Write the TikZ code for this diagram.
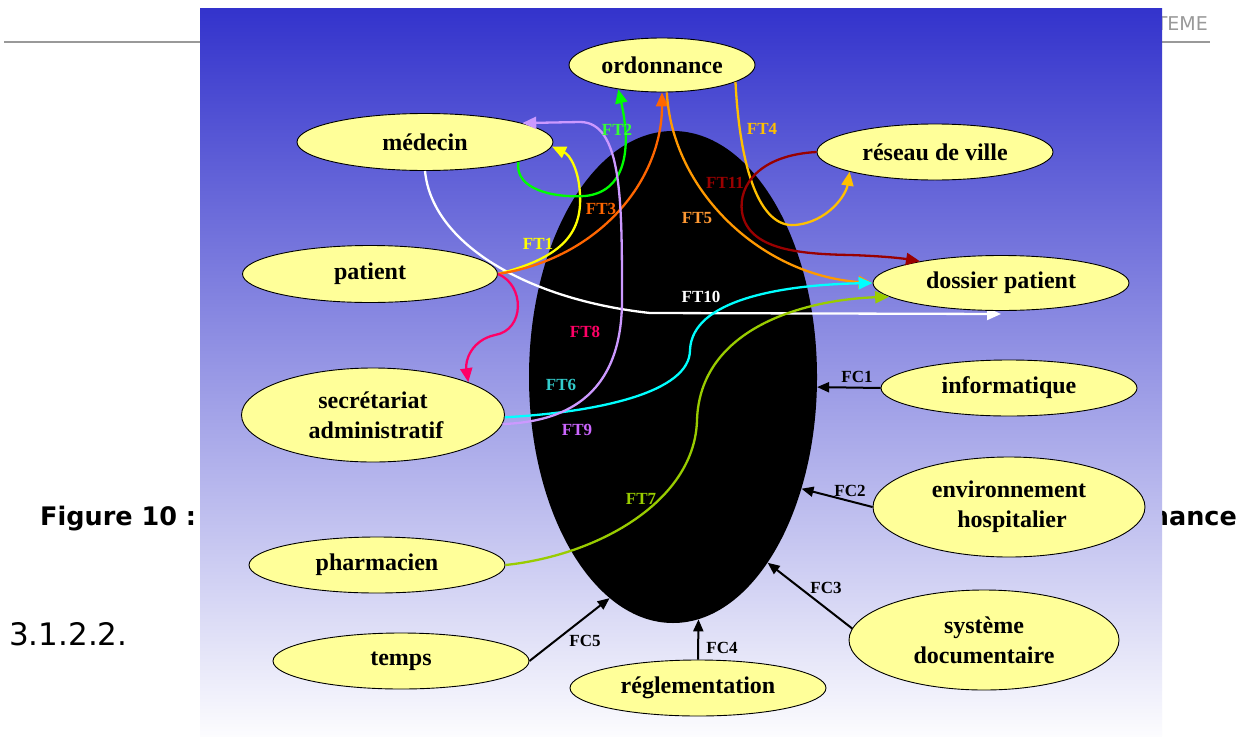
\documentclass[tikz,border=0pt]{standalone}
\usepackage{fontspec}
\setmainfont{Liberation Serif}
\newfontfamily\pagefont{DejaVu Sans}
\usetikzlibrary{shapes.geometric,arrows.meta}
\definecolor{bgtop}{HTML}{3333CC}
\definecolor{bgbot}{HTML}{FCFCFE}
\definecolor{nodeyellow}{HTML}{FFFF99}
\definecolor{cFTone}{HTML}{FFFF00}
\definecolor{cFTtwo}{HTML}{00FF00}
\definecolor{cFTtwoL}{HTML}{33FF33}
\definecolor{cFTthree}{HTML}{FF6600}
\definecolor{cFTfour}{HTML}{FFC000}
\definecolor{cFTfive}{HTML}{FF9900}
\definecolor{cFTfiveL}{HTML}{FF9933}
\definecolor{cFTsix}{HTML}{00FFFF}
\definecolor{cFTsixL}{HTML}{33CCCC}
\definecolor{cFTseven}{HTML}{99CC00}
\definecolor{cFTeight}{HTML}{FF0066}
\definecolor{cFTnine}{HTML}{CC99FF}
\definecolor{cFTnineL}{HTML}{CC66FF}
\definecolor{cFTeleven}{HTML}{990000}
\definecolor{pagegrey}{HTML}{999999}
\begin{document}
\begin{tikzpicture}[x=1pt,y=-1pt,
  box/.style={ellipse, draw=black, line width=0.9pt, fill=nodeyellow, inner sep=0pt,
    font=\bfseries\fontsize{24}{30}\selectfont, align=center},
  flow/.style={line width=2.3pt, -{Triangle[length=14pt,width=12pt]}},
  cst/.style={line width=2pt, draw=black, -{Triangle[length=12pt,width=10pt]}},
  lbl/.style={font=\bfseries\fontsize{17}{19}\selectfont, inner sep=0pt},
  pagetxt/.style={inner sep=0pt, font=\pagefont\bfseries\fontsize{25.5}{28}\selectfont}]
\useasboundingbox (0,0) rectangle (1238,736);
\fill[white] (0,0) rectangle (1238,736);
% page behind the figure
\draw[pagegrey, line width=2pt] (4,42) -- (1210,42);
\node[inner sep=0pt, anchor=base east, text=pagegrey, font=\pagefont\fontsize{19}{22}\selectfont] (hdr) at (1208,30) {STEME};
\node[pagetxt, anchor=base west] (fig) at (40,525) {Figure 10 :};
\node[pagetxt, anchor=base east] (tail) at (1237,525) {nance};
\node[inner sep=0pt, anchor=base west, font=\pagefont\fontsize{31}{34}\selectfont] (sec) at (9,645) {3.1.2.2.};
% figure background
\shade[top color=bgtop, bottom color=bgbot] (200,8) rectangle (1162,736);
% system
\node[ellipse, fill=black, minimum width=288pt, minimum height=492pt, inner sep=0pt] (sys) at (673,377) {};
% FT10 passes under the dossier node
\node[box, minimum width=256pt, minimum height=57pt] (medecin) at (425,142) {médecin};
\coordinate (ft10end) at (1001,314);
\draw[flow, white] (medecin.south) .. controls (432,245) and (530,300) .. (650,313) -- (ft10end);
% nodes
\node[box, minimum width=186pt, minimum height=54pt] (ordo) at (662,65) {ordonnance};
\node[box, minimum width=236pt, minimum height=56pt] (reseau) at (935,152) {réseau de ville};
\node[box, minimum width=255pt, minimum height=57pt] (patient) at (370,274) {patient};
\node[box, minimum width=256pt, minimum height=55pt] (dossier) at (1001,283) {dossier patient};
\node[box, minimum width=263pt, minimum height=94pt] (secr) at (373,415) {secrétariat\\\ administratif};
\node[box, minimum width=256pt, minimum height=56pt] (info) at (1009,388) {informatique};
\node[box, minimum width=272pt, minimum height=100pt] (env) at (1009,507) {environnement\\\ hospitalier};
\node[box, minimum width=270pt, minimum height=100pt] (doc) at (984,640) {système\\ documentaire};
\node[box, minimum width=256pt, minimum height=56pt] (pharma) at (377,565) {pharmacien};
\node[box, minimum width=256pt, minimum height=56pt] (temps) at (401,661) {temps};
\node[box, minimum width=256pt, minimum height=56pt] (regl) at (698,688) {réglementation};
% functional flows
\draw[flow, cFTone] (patient.east) .. controls (560,258) and (582,235) .. (580,195) .. controls (579,170) and (570,155) .. (medecin.-2);
\draw[flow, cFTtwo] (medecin.-12) .. controls (514,190) and (555,198) .. (585,196) .. controls (625,192) and (632,150) .. (ordo.209);
\draw[flow, cFTthree] (patient.east) .. controls (600,258) and (662,180) .. (ordo.south);
\draw[flow, cFTfive] (ordo.-80) .. controls (672,190) and (760,275) .. (dossier.west);
\draw[flow, cFTfour] (ordo.-13) .. controls (740,170) and (760,228) .. (795,225) .. controls (828,222) and (846,195) .. (reseau.193);
\draw[flow, cFTeleven] (reseau.west) .. controls (760,155) and (738,185) .. (742,212) .. controls (748,250) and (800,254) .. (850,255) .. controls (880,256) and (900,258) .. (dossier.165);
\draw[flow, cFTsix] (secr.-1) .. controls (600,412) and (690,392) .. (690,350) .. controls (692,300) and (780,285) .. (dossier.west);
\draw[flow, cFTseven] (pharma.east) .. controls (600,555) and (695,500) .. (697,420) .. controls (700,330) and (800,300) .. (dossier.187);
\draw[flow, cFTeight] (patient.east) .. controls (525,285) and (525,330) .. (495,335) .. controls (472,340) and (465,360) .. (secr.19);
\draw[flow, cFTnine] (secr.-4) .. controls (560,422) and (622,400) .. (622,300) .. controls (622,200) and (622,122) .. (580,122) -- (medecin.11);
% constraint flows
\draw[cst] (info.west) -- (sys.-4);
\draw[cst] (env.west) -- (sys.-41);
\draw[cst] (doc.175) -- (sys.-63);
\draw[cst] (regl.north) -- (sys.-84);
\draw[cst] (temps.east) -- (sys.-106);
% labels
\node[lbl, text=cFTone] (lFT1) at (538,244) {FT1};
\node[lbl, text=cFTtwoL] (lFT2) at (617,130) {FT2};
\node[lbl, text=cFTthree] (lFT3) at (601,209) {FT3};
\node[lbl, text=cFTfour] (lFT4) at (762,129) {FT4};
\node[lbl, text=cFTfiveL] (lFT5) at (697,218) {FT5};
\node[lbl, text=cFTeleven] (lFT11) at (725,183) {FT11};
\node[lbl, text=white] (lFT10) at (701,297) {FT10};
\node[lbl, text=cFTeight] (lFT8) at (585,332) {FT8};
\node[lbl, text=cFTsixL] (lFT6) at (561,385) {FT6};
\node[lbl, text=cFTnineL] (lFT9) at (577,430) {FT9};
\node[lbl, text=cFTseven] (lFT7) at (641,499) {FT7};
\node[lbl] (lFC1) at (857,377) {FC1};
\node[lbl] (lFC2) at (850,491) {FC2};
\node[lbl] (lFC3) at (826,588) {FC3};
\node[lbl] (lFC4) at (722,648) {FC4};
\node[lbl] (lFC5) at (585,641) {FC5};
\end{tikzpicture}
\end{document}
